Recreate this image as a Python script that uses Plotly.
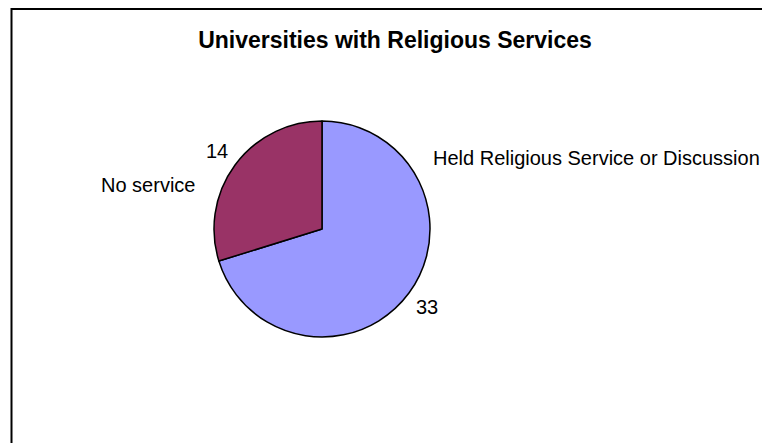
import numpy as np
import plotly.graph_objects as go

labels = ["Held Religious Service or Discussion", "No service"]
values = [33, 14]
colors = ["#9999FF", "#993366"]
title = "Universities with Religious Services"

# page has an 8px body margin; figure fills the rest of the 770x443 window
OFF = 8
W, H = 770 - OFF, 443 - OFF


def fx(x):  # window px -> paper x
    return (x - OFF) / W


def fy(y):  # window px (from top) -> paper y
    return 1 - (y - OFF) / H


cx, cy, r = 322, 229, 108  # pie centre / radius in window px

fig = go.Figure(go.Pie(
    labels=labels, values=values, sort=False, direction="clockwise", rotation=0,
    marker=dict(colors=colors, line=dict(color="black", width=1.5)),
    textinfo="none", hoverinfo="label+value", showlegend=False,
    domain=dict(x=[fx(cx - r), fx(cx + r)], y=[fy(cy + r), fy(cy - r)]),
))

font = dict(family="Liberation Sans, Arial, sans-serif", color="black", size=20)

# value labels placed at the mid-angle of each slice, just outside the pie
total = sum(values)
cum = np.cumsum([0] + values)
annots = []
for i, v in enumerate(values):
    mid = (cum[i] + v / 2) / total * 2 * np.pi  # clockwise from 12 o'clock
    d = r * 1.21
    px = cx + d * np.sin(mid)
    py = cy - d * np.cos(mid)
    annots.append(dict(x=fx(px), y=fy(py), xref="paper", yref="paper",
                       text=str(v), showarrow=False, font=font,
                       xanchor="center", yanchor="middle"))

# category labels
annots.append(dict(x=fx(431), y=fy(158), xref="paper", yref="paper", text=labels[0],
                   showarrow=False, font=font, xanchor="left", yanchor="middle"))
annots.append(dict(x=fx(197), y=fy(185), xref="paper", yref="paper", text=labels[1],
                   showarrow=False, font=font, xanchor="right", yanchor="middle"))

fig.update_layout(
    width=W, height=H, margin=dict(l=0, r=0, t=0, b=0),
    paper_bgcolor="white", plot_bgcolor="white",
    title=dict(text="<b>" + title + "</b>", x=fx(395), xanchor="center",
               y=fy(40), yanchor="middle",
               font=dict(family="Liberation Sans, Arial, sans-serif", size=23, color="black")),
    annotations=annots,
    shapes=[dict(type="rect", xref="paper", yref="paper",
                 x0=fx(11.5), x1=1.05, y0=-0.05, y1=fy(9),
                 line=dict(color="black", width=2), fillcolor="rgba(0,0,0,0)", layer="below")],
)

fig.write_html("out.html")
